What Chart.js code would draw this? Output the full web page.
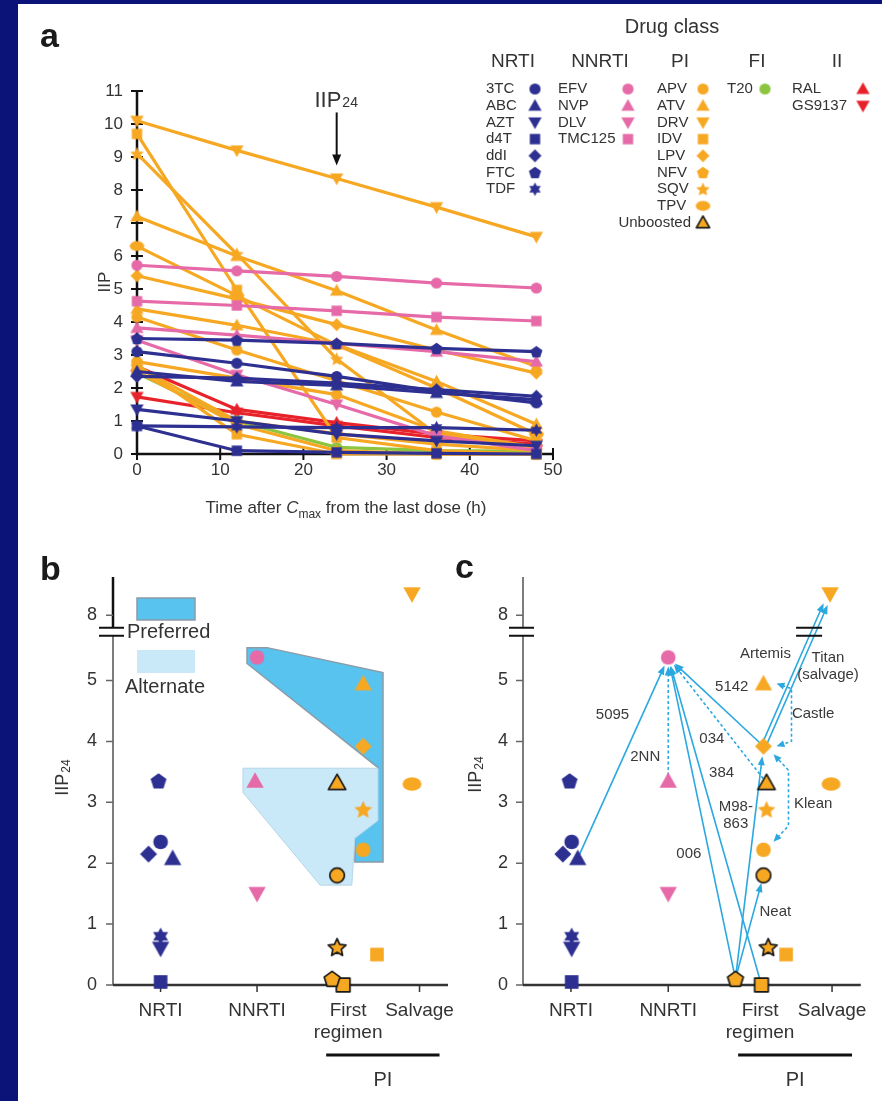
<!DOCTYPE html>
<html><head><meta charset="utf-8">
<script src="https://cdn.jsdelivr.net/npm/chart.js@4.4.1/dist/chart.umd.min.js"></script>
<style>
html,body{margin:0;padding:0;width:882px;height:1101px;overflow:hidden;background:#0b1378;}
#page{position:absolute;left:18px;top:4px;right:0;bottom:0;background:#fff;}
canvas{position:absolute;}
#ca{left:0;top:0}
#cb{left:0;top:530px}
#cc{left:450px;top:530px}
</style></head><body>
<div id="page"></div>
<canvas id="ca" width="882" height="535"></canvas>
<canvas id="cb" width="470" height="571"></canvas>
<canvas id="cc" width="432" height="571"></canvas>
<script>
// ================= DATA =================
// Panel a: IIP versus time after Cmax (h)
const hours = [0, 12, 24, 36, 48];
const xTicksA = [0, 10, 20, 30, 40, 50];
const yTicksA = [0,1,2,3,4,5,6,7,8,9,10,11];

const nrtiDrugs = ['3TC','ABC','AZT','d4T','ddI','FTC','TDF'];
const nrtiIIP = [
  [3.1, 2.75, 2.35, 1.9, 1.55],
  [2.5, 2.2, 2.08, 1.85, 1.65],
  [1.35, 1.0, 0.6, 0.4, 0.25],
  [0.85, 0.1, 0.05, 0.02, 0.0],
  [2.35, 2.3, 2.15, 1.95, 1.75],
  [3.5, 3.45, 3.35, 3.2, 3.1],
  [0.85, 0.82, 0.8, 0.8, 0.72]
];
const nnrtiDrugs = ['EFV','NVP','DLV','TMC125'];
const nnrtiIIP = [
  [5.72, 5.55, 5.38, 5.18, 5.03],
  [3.82, 3.6, 3.35, 3.1, 2.8],
  [3.45, 2.4, 1.5, 0.55, 0.1],
  [4.63, 4.5, 4.34, 4.15, 4.03]
];
const piDrugs = ['APV','ATV','DRV','IDV','LPV','NFV','SQV','TPV'];
const piIIP = [
  [4.15, 3.15, 2.22, 1.27, 0.4],
  [7.2, 6.0, 4.95, 3.76, 2.65],
  [10.1, 9.2, 8.35, 7.48, 6.58],
  [9.7, 4.97, 0.5, 0.1, 0.0],
  [5.4, 4.7, 3.92, 3.15, 2.45],
  [2.5, 0.9, 0.1, 0.0, 0.0],
  [9.1, 6.06, 2.88, 0.6, 0.2],
  [6.3, 4.8, 3.3, 2.0, 0.6]
];
const piUnboostedDrugs = ['APV','ATV','IDV','SQV'];
const piUnboostedIIP = [
  [2.8, 2.3, 1.8, 0.7, 0.2],
  [4.4, 3.9, 3.32, 2.2, 0.9],
  [2.7, 0.6, 0.0, 0.0, 0.0],
  [2.65, 1.0, 0.62, 0.3, 0.1]
];
const fiDrugs = ['T20'];
const fiIIP = [[2.45, 1.0, 0.2, 0.1, 0.08]];
const iiDrugs = ['RAL','GS9137'];
const iiIIP = [
  [2.65, 1.35, 0.95, 0.6, 0.4],
  [1.73, 1.25, 0.85, 0.5, 0.3]
];

// Panels b, c: IIP24 by drug class
const groupNames = ['NRTI','NNRTI','First regimen','Salvage'];
const iip24Ids   = ['FTC','3TC','ddI','ABC','TDF','AZT','d4T','EFV','NVP','DLV','ATV','LPV','ATVu','SQV','APV','APVu','SQVu','NFVu','IDVu','DRV','TPV','IDVs'];
const iip24Drugs = ['FTC','3TC','ddI','ABC','TDF','AZT','d4T','EFV','NVP','DLV','ATV','LPV','ATV','SQV','APV','APV','SQV','NFV','IDV','DRV','TPV','IDV'];
const iip24Group = [0,0,0,0,0,0,0,1,1,1,2,2,2,2,2,2,2,2,2,3,3,3];
const iip24Unboosted = [0,0,0,0,0,0,0,0,0,0,0,0,1,0,0,1,1,1,1,0,0,0];
const iip24Values = [3.35,2.35,2.15,2.08,0.8,0.6,0.05,5.38,3.35,1.5,4.95,3.92,3.32,2.88,2.22,1.8,0.62,0.1,0.0,8.35,3.3,0.5];
const iip24Ticks = [0,1,2,3,4,5,8];

// Panel b regions (x in axis units, y in IIP24)
const preferredRegion = [[40.0,5.54],[46.0,5.54],[80.6,5.13],[80.6,2.02],[72.2,2.02],[72.2,2.41],[79.1,3.57],[40.0,5.28]];
const alternateRegion = [[38.8,3.56],[79.1,3.56],[79.1,2.70],[72.2,2.41],[71.3,1.64],[61.8,1.64],[38.8,3.16]];

// Panel c: clinical trials comparing regimens (arrow from comparator to favoured drug)
const trialNames = ['5095','2NN','006','384','034','5142','M98-863','Neat','Artemis','Titan','Castle','Klean'];
const trialFrom  = ['ABC','NVP','IDVu','NFVu','ATVu','LPV','NFVu','NFVu','LPV','LPV','ATV','APV'];
const trialTo    = ['EFV','EFV','EFV','EFV','EFV','EFV','LPV','APVu','DRV','DRV','LPV','LPV'];
const trialDashed = [false,true,false,false,true,false,false,false,false,false,true,true];

// ================= LAYOUT / STYLE =================
const FF = '"Liberation Sans", Arial, Helvetica, sans-serif';
const TXT = '#333';
const COL = {NRTI:'#2d3091', NNRTI:'#e66aa8', PI:'#f7a823', FI:'#8cc540', II:'#e8222b'};
const groupColor = [COL.NRTI, COL.NNRTI, COL.PI, COL.PI];
const ARROW = '#2ba8e0';
const SHAPE = {'3TC':'circle', ABC:'triangle', AZT:'down', d4T:'square', ddI:'diamond', FTC:'pentagon', TDF:'star6',
  EFV:'circle', NVP:'triangle', DLV:'down', TMC125:'square',
  APV:'circle', ATV:'triangle', DRV:'down', IDV:'square', LPV:'diamond', NFV:'pentagon', SQV:'star5', TPV:'ellipse',
  T20:'circle', RAL:'triangle', GS9137:'down'};
const BREAK_AT = 5.8, BREAK_SHIFT = 1.93;
function plotY(v){ return v > BREAK_AT ? v - BREAK_SHIFT : v; }
const catPos = [14.2, 43, 70.2, 91.5];
const jitB = [-0.6,0,-3.6,3.6,0,0,0, 0,-0.6,0, 4.5,4.5,-3.3,4.5,4.5,-3.3,-3.3,-4.8,-1.5, -2.25,-2.25,-12.7];
const jitC = [-0.4,0.2,-2.4,2.0,0.2,0.2,0.2, 0,0,0, 1.0,1.0,1.9,1.9,1.0,1.0,2.4,-7.3,0.4, -0.6,-0.3,-13.6];
const trialOffset = [0,0,0,0,0,0,0,0,-2.2,2.2,0,0];
const trialEnd = [9,9,9,9,9,9,10,8,11,11,0,0];
const trialBracket = {10:{dx:28, off:13, ty:0, cy:5}, 11:{dx:25, off:10, ty:8, cy:24}};
const trialLabelLines = [['5095'],['2NN'],['006'],['384'],['034'],['5142'],['M98-','863'],['Neat'],['Artemis'],['Titan','(salvage)'],['Castle'],['Klean']];
const trialLabelPos = [[26.5,4.43],[36.2,3.75],[49.1,2.16],[58.8,3.48],[55.9,4.05],[61.8,4.89],[63,2.92],[74.7,1.2],[71.8,5.44],[90.3,5.38],[85.9,4.46],[85.9,2.98]];

Chart.defaults.font.family = FF;
Chart.defaults.color = TXT;

// ================= MARKERS =================
const markerCache = {};
function marker(shape, color, size, outline) {
  const key = [shape,color,size,outline].join('|');
  if (markerCache[key]) return markerCache[key];
  const pad = 4;
  const wf = shape === 'ellipse' ? 1.3 : 1.15;
  const w = Math.ceil(size*wf) + pad*2, h = Math.ceil(size*1.15) + pad*2;
  const c = document.createElement('canvas'); c.width = w; c.height = h;
  const g = c.getContext('2d');
  g.translate(w/2, h/2);
  const r = size/2;
  g.beginPath();
  if (shape==='circle') g.arc(0,0,r*0.86,0,2*Math.PI);
  else if (shape==='triangle') { g.moveTo(0,-r*1.02); g.lineTo(r*1.02,r*0.78); g.lineTo(-r*1.02,r*0.78); g.closePath(); }
  else if (shape==='down') { g.moveTo(0,r*1.02); g.lineTo(r*1.02,-r*0.78); g.lineTo(-r*1.02,-r*0.78); g.closePath(); }
  else if (shape==='square') g.rect(-r*0.8,-r*0.8,r*1.6,r*1.6);
  else if (shape==='diamond') { g.moveTo(0,-r); g.lineTo(r,0); g.lineTo(0,r); g.lineTo(-r,0); g.closePath(); }
  else if (shape==='pentagon') { for (let i=0;i<5;i++){ const a=-Math.PI/2+i*2*Math.PI/5; g.lineTo(r*0.98*Math.cos(a), r*0.08+r*0.98*Math.sin(a)); } g.closePath(); }
  else if (shape==='star5') { for (let i=0;i<10;i++){ const a=-Math.PI/2+i*Math.PI/5, rr=i%2?r*0.52:r*1.1; g.lineTo(rr*Math.cos(a), rr*Math.sin(a)+r*0.08);} g.closePath(); }
  else if (shape==='star6') { for (let i=0;i<12;i++){ const a=-Math.PI/2+i*Math.PI/6, rr=i%2?r*0.58:r*1.02; g.lineTo(rr*Math.cos(a), rr*Math.sin(a)); } g.closePath(); }
  else if (shape==='ellipse') { g.ellipse(0,0,r*1.12,r*0.78,0,0,2*Math.PI); }
  g.fillStyle=color; g.fill();
  if (outline) { g.lineWidth=1.7; g.strokeStyle='#1a1a1a'; g.lineJoin='round'; g.stroke(); }
  markerCache[key]=c; return c;
}

// ================= HELPERS =================
function subLabel(ctx, main, sub, cx, cy, size, subSize, rot, subDrop) {
  ctx.save(); ctx.translate(cx, cy); if (rot) ctx.rotate(rot);
  ctx.font = size+'px '+FF; const w1 = ctx.measureText(main).width;
  ctx.font = subSize+'px '+FF; const w2 = ctx.measureText(sub).width;
  const sx = -(w1+w2)/2, base = size*0.36;
  ctx.fillStyle = TXT; ctx.textBaseline='alphabetic'; ctx.textAlign='left';
  ctx.font = size+'px '+FF; ctx.fillText(main, sx, base);
  ctx.font = subSize+'px '+FF; ctx.fillText(sub, sx+w1+1, base+subDrop);
  ctx.restore();
}
function letter(ctx, t, x, y) {
  ctx.save(); ctx.font='bold 34px '+FF; ctx.fillStyle='#1a1a1a'; ctx.textAlign='left'; ctx.textBaseline='alphabetic';
  ctx.fillText(t, x, y); ctx.restore();
}
function head(ctx, tx, ty, ux, uy, hl, hw, color) {
  ctx.fillStyle = color; ctx.beginPath(); ctx.moveTo(tx,ty);
  ctx.lineTo(tx-ux*hl-uy*hw, ty-uy*hl+ux*hw); ctx.lineTo(tx-ux*hl+uy*hw, ty-uy*hl-ux*hw); ctx.closePath(); ctx.fill();
}

// ================= PANEL A =================
function lineSets(drugs, vals, color) {
  return drugs.map((d,i)=>({
    label: d,
    data: hours.map((h,j)=>({x:h, y:vals[i][j]})),
    showLine: true, borderColor: color, backgroundColor: color, borderWidth: 3.2,
    pointStyle: marker(SHAPE[d], color, 13, false), pointRadius: 6, clip: false
  }));
}
const setsA = [].concat(
  lineSets(nrtiDrugs, nrtiIIP, COL.NRTI),
  lineSets(nnrtiDrugs, nnrtiIIP, COL.NNRTI),
  lineSets(piUnboostedDrugs, piUnboostedIIP, COL.PI),
  lineSets(piDrugs, piIIP, COL.PI),
  lineSets(fiDrugs, fiIIP, COL.FI),
  lineSets(iiDrugs, iiIIP, COL.II)
);

const panelA = {
  id:'panelA',
  beforeDatasetsDraw(chart){
    const {ctx, scales:{x,y}} = chart;
    const x0=x.getPixelForValue(0), x1=x.getPixelForValue(50), y0=y.getPixelForValue(0), y1=y.getPixelForValue(11);
    ctx.save(); ctx.strokeStyle='#111'; ctx.lineWidth=2.5;
    ctx.beginPath(); ctx.moveTo(x0,y1); ctx.lineTo(x0,y0); ctx.lineTo(x1,y0); ctx.stroke();
    ctx.lineWidth=2; ctx.beginPath();
    yTicksA.forEach(v=>{const p=y.getPixelForValue(v); ctx.moveTo(x0-6,p); ctx.lineTo(x0+6,p);});
    xTicksA.forEach(v=>{const p=x.getPixelForValue(v); ctx.moveTo(p,y0-6); ctx.lineTo(p,y0+6);});
    ctx.stroke(); ctx.restore();
  },
  afterDraw(chart){
    const {ctx, scales:{x,y}} = chart;
    letter(ctx, 'a', 40, 47);
    // IIP24 arrow
    const ax = x.getPixelForValue(24), tip = y.getPixelForValue(piIIP[2][2]) - 13;
    ctx.save(); ctx.strokeStyle='#111'; ctx.lineWidth=2;
    ctx.beginPath(); ctx.moveTo(ax, tip-53); ctx.lineTo(ax, tip-8); ctx.stroke();
    head(ctx, ax, tip, 0, 1, 11, 4.5, '#111');
    ctx.restore();
    subLabel(ctx, 'IIP', '24', ax-1, 99, 22, 14, 0, 0);
    // axis titles
    subLabel(ctx, 'IIP', '', 104, 282, 17, 10, -Math.PI/2, 0);
    ctx.save(); ctx.fillStyle=TXT; ctx.textBaseline='alphabetic'; ctx.textAlign='left';
    const parts = [['Time after ', '17px '+FF, 0], ['C', 'italic 17px '+FF, 0], ['max', '12px '+FF, 5], [' from the last dose (h)', '17px '+FF, 0]];
    let tw = 0; parts.forEach(p=>{ctx.font=p[1]; p.push(ctx.measureText(p[0]).width); tw+=p[3];});
    let cx = (chart.chartArea.left + chart.chartArea.right)/2 + 1 - tw/2;
    parts.forEach(p=>{ctx.font=p[1]; ctx.fillText(p[0], cx, 513+p[2]); cx+=p[3];});
    ctx.restore();
    drawLegendA(ctx);
  }
};

function drawLegendA(ctx) {
  ctx.save(); ctx.fillStyle = TXT;
  ctx.font = '20px '+FF; ctx.textAlign='center'; ctx.textBaseline='middle';
  ctx.fillText('Drug class', 672, 27);
  const cols = [
    {head:'NRTI', hx:513, lx:486, mx:535, drugs:nrtiDrugs, color:COL.NRTI},
    {head:'NNRTI', hx:600, lx:558, mx:628, drugs:nnrtiDrugs, color:COL.NNRTI},
    {head:'PI', hx:680, lx:657, mx:703, drugs:piDrugs, color:COL.PI},
    {head:'FI', hx:757, lx:727, mx:765, drugs:fiDrugs, color:COL.FI},
    {head:'II', hx:837, lx:792, mx:863, drugs:iiDrugs, color:COL.II}
  ];
  const y0 = 89, dy = 16.7;
  cols.forEach(c=>{
    ctx.font='19px '+FF; ctx.textAlign='center'; ctx.fillStyle=TXT;
    ctx.fillText(c.head, c.hx, 62);
    c.drugs.forEach((d,i)=>{
      const yy = y0 + i*dy;
      ctx.font='15px '+FF; ctx.textAlign='left'; ctx.fillStyle=TXT;
      ctx.fillText(d, c.lx, yy);
      const m = marker(SHAPE[d], c.color, 13, false);
      ctx.drawImage(m, c.mx - m.width/2, yy - m.height/2);
    });
  });
  const yu = y0 + 8*dy;
  ctx.font='15px '+FF; ctx.textAlign='right'; ctx.fillText('Unboosted', 691, yu);
  const mu = marker('triangle', COL.PI, 13, true);
  ctx.drawImage(mu, 703 - mu.width/2, yu - mu.height/2);
  ctx.restore();
}

new Chart(document.getElementById('ca'), {
  type:'scatter',
  data:{datasets:setsA},
  options:{
    responsive:false, animation:false, events:[],
    layout:{padding:{left:0, right:329, top:91, bottom:41}},
    plugins:{legend:{display:false}, tooltip:{enabled:false}},
    scales:{
      x:{type:'linear', min:0, max:50,
         afterBuildTicks:s=>{s.ticks = xTicksA.map(v=>({value:v}));},
         ticks:{font:{size:17}, color:TXT, padding:6, maxRotation:0, autoSkip:false},
         grid:{drawOnChartArea:false, drawTicks:false}, border:{display:false},
         afterFit:s=>{s.height=40;}},
      y:{type:'linear', min:0, max:11,
         afterBuildTicks:s=>{s.ticks = yTicksA.map(v=>({value:v}));},
         ticks:{font:{size:17}, color:TXT, padding:14, autoSkip:false},
         grid:{drawOnChartArea:false, drawTicks:false}, border:{display:false},
         afterFit:s=>{s.width=137;}}
    }
  },
  plugins:[panelA]
});

// ================= PANELS B, C =================
function pointSets(jit) {
  return iip24Ids.map((id,i)=>({
    label:id,
    data:[{x: catPos[iip24Group[i]] + jit[i], y: plotY(iip24Values[i])}],
    pointStyle: marker(SHAPE[iip24Drugs[i]], groupColor[iip24Group[i]], 17, !!iip24Unboosted[i]),
    pointRadius: 8, clip:false
  }));
}
function drawAxesBC(chart, upperColor, upperWidth) {
  const {ctx, scales:{x,y}, chartArea:ca} = chart;
  const ax = ca.left, ay = ca.bottom, yb = y.getPixelForValue(BREAK_AT);
  ctx.save();
  ctx.strokeStyle='#7d7d7d'; ctx.lineWidth=2;
  ctx.beginPath(); ctx.moveTo(ax, ay); ctx.lineTo(ax, yb+4); ctx.stroke();
  ctx.strokeStyle=upperColor; ctx.lineWidth=upperWidth;
  ctx.beginPath(); ctx.moveTo(ax, ca.top); ctx.lineTo(ax, yb-4); ctx.stroke();
  ctx.strokeStyle='#111'; ctx.lineWidth=2;
  ctx.beginPath(); ctx.moveTo(ax-14, yb-4); ctx.lineTo(ax+11, yb-4); ctx.moveTo(ax-14, yb+4); ctx.lineTo(ax+11, yb+4); ctx.stroke();
  ctx.strokeStyle='#666'; ctx.lineWidth=1.5; ctx.beginPath();
  iip24Ticks.forEach(v=>{const p=y.getPixelForValue(plotY(v)); ctx.moveTo(ax-7,p); ctx.lineTo(ax,p);}); ctx.stroke();
  ctx.strokeStyle='#333'; ctx.lineWidth=2.5; ctx.beginPath(); ctx.moveTo(ax,ay); ctx.lineTo(ca.right,ay); ctx.stroke();
  ctx.lineWidth=1.5; ctx.beginPath();
  catPos.forEach(v=>{const p=x.getPixelForValue(v); ctx.moveTo(p,ay); ctx.lineTo(p,ay+7);}); ctx.stroke();
  // PI bracket
  const b1 = x.getPixelForValue(catPos[2]) - 22, b2 = x.getPixelForValue(catPos[3]) + 20;
  ctx.strokeStyle='#111'; ctx.lineWidth=3; ctx.beginPath(); ctx.moveTo(b1, 525); ctx.lineTo(b2, 525); ctx.stroke();
  ctx.fillStyle=TXT; ctx.font='20px '+FF; ctx.textAlign='center'; ctx.textBaseline='middle';
  ctx.fillText('PI', (b1+b2)/2, 550);
  ctx.restore();
}
function polygon(ctx, x, y, pts, fill, stroke, lw) {
  ctx.beginPath();
  pts.forEach((p,i)=>{ const px=x.getPixelForValue(p[0]), py=y.getPixelForValue(plotY(p[1])); i?ctx.lineTo(px,py):ctx.moveTo(px,py); });
  ctx.closePath(); ctx.fillStyle=fill; ctx.fill();
  if (stroke) { ctx.strokeStyle=stroke; ctx.lineWidth=lw; ctx.stroke(); }
}

const panelB = {
  id:'panelB',
  beforeDatasetsDraw(chart){
    const {ctx, scales:{x,y}} = chart;
    drawAxesBC(chart, '#111', 2.5);
    ctx.save();
    polygon(ctx, x, y, preferredRegion, '#57c3ee', '#8c9ba6', 1.5);
    polygon(ctx, x, y, alternateRegion, '#c9e8f8', '#b9d6e6', 1);
    ctx.restore();
  },
  afterDraw(chart){
    const {ctx} = chart;
    letter(ctx, 'b', 40, 50);
    subLabel(ctx, 'IIP', '24', 62, 248, 18, 12, -Math.PI/2, 2);
    ctx.save();
    ctx.fillStyle='#57c3ee'; ctx.fillRect(137,68,58,22); ctx.strokeStyle='#8c9ba6'; ctx.lineWidth=1.5; ctx.strokeRect(137,68,58,22);
    ctx.fillStyle='#c9e8f8'; ctx.fillRect(137,120,58,23);
    ctx.fillStyle=TXT; ctx.font='20px '+FF; ctx.textAlign='left'; ctx.textBaseline='middle';
    ctx.fillText('Preferred', 127, 102);
    ctx.fillText('Alternate', 125, 157);
    ctx.restore();
  }
};

function idx(id){ return iip24Ids.indexOf(id); }
const panelC = {
  id:'panelC',
  beforeDatasetsDraw(chart){
    const {ctx, scales:{x,y}} = chart;
    drawAxesBC(chart, '#7d7d7d', 2);
    const P = id => { const i = idx(id); return {x:x.getPixelForValue(catPos[iip24Group[i]] + jitC[i]), y:y.getPixelForValue(plotY(iip24Values[i]))}; };
    ctx.save(); ctx.strokeStyle=ARROW; ctx.lineWidth=1.6;
    trialNames.forEach((t,k)=>{
      const a = P(trialFrom[k]), b = P(trialTo[k]);
      ctx.setLineDash(trialDashed[k] ? [3,2.5] : []);
      const br = trialBracket[k];
      if (br) {
        const dir = Math.sign(b.y - a.y), xs = Math.max(a.x,b.x) + br.dx;
        const tA = {x:a.x+br.off, y:a.y+dir*br.ty}, c1 = {x:xs, y:a.y+dir*br.cy}, c2 = {x:xs, y:b.y-dir*br.cy}, tB = {x:b.x+br.off, y:b.y-dir*br.ty};
        const u1 = unit(c1,tA), u2 = unit(c2,tB);
        ctx.beginPath(); ctx.moveTo(tA.x-u1.x*6, tA.y-u1.y*6); ctx.lineTo(c1.x,c1.y); ctx.lineTo(c2.x,c2.y); ctx.lineTo(tB.x-u2.x*6, tB.y-u2.y*6); ctx.stroke();
        ctx.setLineDash([]);
        head(ctx, tA.x, tA.y, u1.x, u1.y, 8, 3.5, ARROW);
        head(ctx, tB.x, tB.y, u2.x, u2.y, 8, 3.5, ARROW);
      } else {
        const u = unit(a,b), o = trialOffset[k];
        const sx = a.x - u.y*o, sy = a.y + u.x*o;
        const ex = b.x - u.y*o - u.x*trialEnd[k], ey = b.y + u.x*o - u.y*trialEnd[k];
        ctx.beginPath(); ctx.moveTo(sx,sy); ctx.lineTo(ex-u.x*6, ey-u.y*6); ctx.stroke();
        ctx.setLineDash([]);
        head(ctx, ex, ey, u.x, u.y, 9, 3.5, ARROW);
      }
    });
    ctx.restore();
    // break mark on the salvage column
    const yb = y.getPixelForValue(BREAK_AT), bx = x.getPixelForValue(84.7);
    ctx.save(); ctx.strokeStyle='#111'; ctx.lineWidth=2; ctx.beginPath();
    ctx.moveTo(bx-13, yb-4); ctx.lineTo(bx+13, yb-4); ctx.moveTo(bx-13, yb+4); ctx.lineTo(bx+13, yb+4); ctx.stroke(); ctx.restore();
  },
  afterDraw(chart){
    const {ctx, scales:{x,y}} = chart;
    letter(ctx, 'c', 5, 48);
    subLabel(ctx, 'IIP', '24', 25, 245, 18, 12, -Math.PI/2, 2);
    ctx.save(); ctx.fillStyle='#3a3a3a'; ctx.font='15px '+FF; ctx.textAlign='center'; ctx.textBaseline='middle';
    trialLabelLines.forEach((lines,k)=>{
      const px = x.getPixelForValue(trialLabelPos[k][0]), py = y.getPixelForValue(trialLabelPos[k][1]);
      lines.forEach((l,j)=>ctx.fillText(l, px, py + j*17));
    });
    ctx.restore();
  }
};
function unit(a,b){ const dx=b.x-a.x, dy=b.y-a.y, L=Math.hypot(dx,dy)||1; return {x:dx/L, y:dy/L}; }

function panelOptions(yWidth, padRight, yPad) {
  return {
    responsive:false, animation:false, events:[],
    layout:{padding:{left:0, right:padRight, top:47, bottom:16}},
    plugins:{legend:{display:false}, tooltip:{enabled:false}},
    scales:{
      x:{type:'linear', min:0, max:100,
         afterBuildTicks:s=>{s.ticks = catPos.map(v=>({value:v}));},
         ticks:{font:{size:19}, color:TXT, padding:14, maxRotation:0, minRotation:0, autoSkip:false,
                callback:(v,i)=> groupNames[i]==='First regimen' ? ['First','regimen'] : groupNames[i]},
         grid:{drawOnChartArea:false, drawTicks:false}, border:{display:false},
         afterFit:s=>{s.height=100;}},
      y:{type:'linear', min:0, max:6.7,
         afterBuildTicks:s=>{s.ticks = iip24Ticks.map(v=>({value:plotY(v)}));},
         ticks:{font:{size:18}, color:TXT, padding:yPad, autoSkip:false, callback:(v,i)=>String(iip24Ticks[i])},
         grid:{drawOnChartArea:false, drawTicks:false}, border:{display:false},
         afterFit:s=>{s.width=yWidth;}}
    }
  };
}
new Chart(document.getElementById('cb'), {type:'scatter', data:{datasets:pointSets(jitB)}, options:panelOptions(113, 22, 16), plugins:[panelB]});
new Chart(document.getElementById('cc'), {type:'scatter', data:{datasets:pointSets(jitC)}, options:panelOptions(73, 19, 15), plugins:[panelC]});
</script></body></html>
